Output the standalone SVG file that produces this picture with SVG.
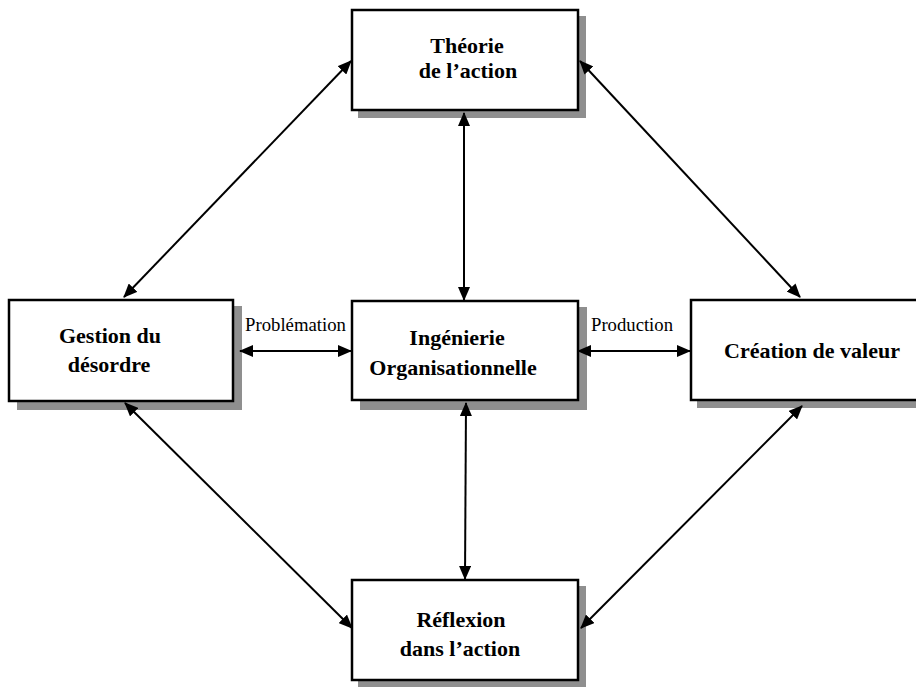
<svg xmlns="http://www.w3.org/2000/svg" width="916" height="688" viewBox="0 0 916 688">
<style>
.box{fill:#fff;stroke:#000;stroke-width:2.5}
.shadow{fill:#8f8f8f}
.title{font-family:"Liberation Serif","Times New Roman",serif;font-weight:bold;font-size:22px;fill:#000;text-anchor:middle}
.lbl{font-family:"Liberation Serif","Times New Roman",serif;font-size:18px;fill:#000}
.conn{stroke:#000;stroke-width:2;fill:none;marker-start:url(#ah);marker-end:url(#ah)}
</style>
<defs>
<marker id="ah" viewBox="0 0 14 12" refX="13" refY="6" markerWidth="14" markerHeight="12" markerUnits="userSpaceOnUse" orient="auto-start-reverse">
<path d="M0,0 L14,6 L0,12 Z" fill="#000"/>
</marker>
</defs>
<rect width="916" height="688" fill="#fff"/>

<g id="node-theorie">
<rect class="shadow" x="358" y="16" width="228" height="102"/>
<rect class="box" x="352" y="10" width="226" height="100"/>
<text class="title" x="467" y="53">Théorie</text>
<text class="title" x="468" y="78">de l’action</text>
</g>

<g id="node-gestion">
<rect class="shadow" x="17" y="306" width="225" height="104"/>
<rect class="box" x="9" y="300" width="224" height="101"/>
<text class="title" x="110" y="343">Gestion du</text>
<text class="title" x="109" y="372">désordre</text>
</g>

<g id="node-ingenierie">
<rect class="shadow" x="360" y="307" width="227" height="103"/>
<rect class="box" x="352" y="301" width="226" height="99"/>
<text class="title" x="457" y="345">Ingénierie</text>
<text class="title" x="453" y="375">Organisationnelle</text>
</g>

<g id="node-creation">
<rect class="shadow" x="697" y="306" width="230" height="102"/>
<rect class="box" x="691" y="300" width="235" height="100"/>
<text class="title" x="812" y="358">Création de valeur</text>
</g>

<g id="node-reflexion">
<rect class="shadow" x="358" y="586" width="228" height="101"/>
<rect class="box" x="352" y="580" width="226" height="100"/>
<text class="title" x="461" y="627">Réflexion</text>
<text class="title" x="460" y="656">dans l’action</text>
</g>

<g id="connectors">
<line class="conn" x1="124" y1="297" x2="351" y2="61"/>
<line class="conn" x1="580" y1="61" x2="800" y2="297"/>
<line class="conn" x1="464" y1="113" x2="464" y2="300"/>
<line class="conn" x1="466" y1="403" x2="465" y2="579"/>
<line class="conn" x1="125" y1="403" x2="352" y2="628"/>
<line class="conn" x1="802" y1="406" x2="581" y2="628"/>
<line class="conn" x1="240" y1="351" x2="351" y2="351"/>
<line class="conn" x1="578" y1="351" x2="690" y2="351"/>
<text class="lbl" x="245" y="331" textLength="101" lengthAdjust="spacingAndGlyphs">Problémation</text>
<text class="lbl" x="591" y="331" textLength="82" lengthAdjust="spacingAndGlyphs">Production</text>
</g>
</svg>
